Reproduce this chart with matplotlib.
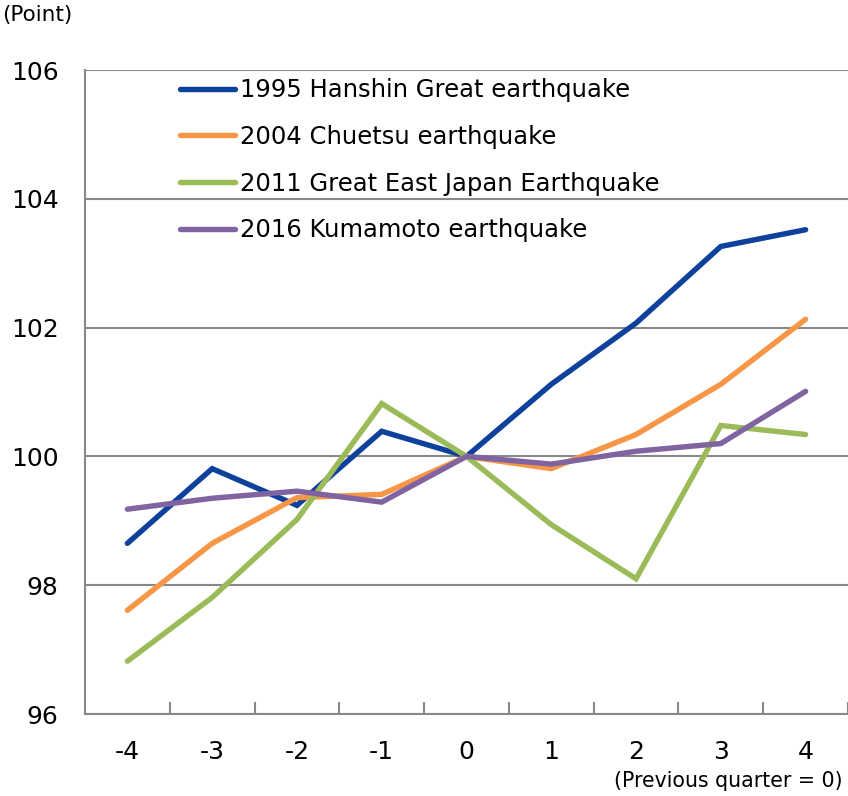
import matplotlib
matplotlib.use("Agg")
import matplotlib.pyplot as plt
import numpy as np

quarters = [-4, -3, -2, -1, 0, 1, 2, 3, 4]
x_labels = ["-4", "-3", "-2", "-1", "0", "1", "2", "3", "4"]
hanshin = [98.65, 99.81, 99.24, 100.39, 100.0, 101.12, 102.07, 103.26, 103.52]
chuetsu = [97.61, 98.65, 99.36, 99.41, 100.0, 99.81, 100.34, 101.12, 102.13]
east_japan = [96.82, 97.81, 99.02, 100.82, 100.0, 98.94, 98.10, 100.48, 100.34]
kumamoto = [99.18, 99.35, 99.46, 99.29, 100.0, 99.88, 100.08, 100.20, 101.01]
series_names = ["1995 Hanshin Great earthquake", "2004 Chuetsu earthquake",
                "2011 Great East Japan Earthquake", "2016 Kumamoto earthquake"]
colors = ["#0e419c", "#f79646", "#9bbb59", "#8064a2"]
y_ticks = [96, 98, 100, 102, 104, 106]

fig = plt.figure(figsize=(8.48, 7.96), dpi=100)
ax = fig.add_axes([85/848, 1-714/796, 763/848, 644/796])

for vals, name, c in zip([hanshin, chuetsu, east_japan, kumamoto], series_names, colors):
    ax.plot(quarters, vals, color=c, lw=3.9, label=name, solid_capstyle="round",
            solid_joinstyle="miter", zorder=3)

ax.set_xlim(-4.5, 4.5)
ax.set_ylim(96, 106)
ax.set_yticks(y_ticks)
ax.set_yticklabels([str(v) for v in y_ticks], fontsize=18)
ax.tick_params(axis="y", length=0, pad=19)
ax.set_xticks(quarters)
ax.set_xticklabels(x_labels, fontsize=18)
ax.tick_params(axis="x", which="major", length=0, pad=19)
ax.set_xticks(np.arange(-3.5, 4.6, 1.0), minor=True)
ax.tick_params(axis="x", which="minor", direction="in", length=9, width=1.5, color="#888888")
ax.grid(axis="y", color="#888888", lw=1.5, zorder=1)
for s in ["top", "right"]:
    ax.spines[s].set_visible(False)
for s in ["left", "bottom"]:
    ax.spines[s].set_color("#888888")
    ax.spines[s].set_linewidth(1.5)

leg = ax.legend(loc="upper left", bbox_to_anchor=(95/763, 0.987), frameon=False,
                fontsize=17.5, handlelength=2.25, handletextpad=0.2,
                labelspacing=0.93, borderpad=0, borderaxespad=0)

fig.text(2/848, 1-15/796, "(Point)", fontsize=15.5, ha="left", va="center")
fig.text(843/848, 1-781/796, "(Previous quarter = 0)", fontsize=14.8, ha="right", va="center")

fig.savefig("out.png", dpi=100)
